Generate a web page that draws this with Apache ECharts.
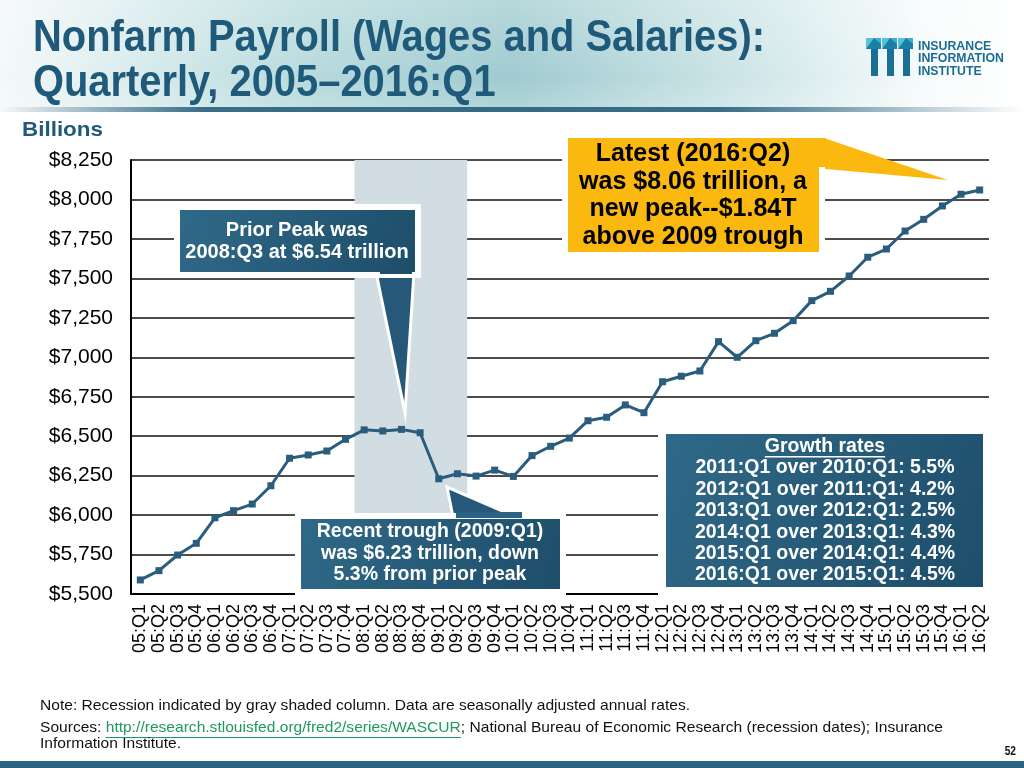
<!DOCTYPE html>
<html><head><meta charset="utf-8">
<script src="https://cdn.jsdelivr.net/npm/echarts@6/dist/echarts.min.js"></script>
<style>html,body{margin:0;padding:0;background:#fff}#c{width:1024px;height:768px}</style>
</head><body><div id="c"></div>
<script>
const categories = ['05:Q1','05:Q2','05:Q3','05:Q4','06:Q1','06:Q2','06:Q3','06:Q4','07:Q1','07:Q2','07:Q3','07:Q4',
  '08:Q1','08:Q2','08:Q3','08:Q4','09:Q1','09:Q2','09:Q3','09:Q4','10:Q1','10:Q2','10:Q3','10:Q4',
  '11:Q1','11:Q2','11:Q3','11:Q4','12:Q1','12:Q2','12:Q3','12:Q4','13:Q1','13:Q2','13:Q3','13:Q4',
  '14:Q1','14:Q2','14:Q3','14:Q4','15:Q1','15:Q2','15:Q3','15:Q4','16:Q1','16:Q2'];
const payroll = [5589,5648,5747,5821, 5983,6028,6070,6186, 6360,6381,6406,6480,
  6540,6533,6543,6522, 6230,6262,6247,6285, 6245,6377,6436,6488,
  6598,6620,6698,6649, 6845,6880,6913,7099, 7000,7105,7152,7232,
  7359,7418,7515,7634, 7686,7800,7874,7959, 8033,8060];
const recessionQuarters = ['08:Q1','08:Q2','08:Q3','08:Q4','09:Q1','09:Q2'];
const yMin = 5500, yMax = 8250, yStep = 250;
const titleLines = ['Nonfarm Payroll (Wages and Salaries):', 'Quarterly, 2005\u20132016:Q1'];
const priorPeakText = ['Prior Peak was', '2008:Q3 at $6.54 trillion'];
const latestText = ['Latest (2016:Q2)', 'was $8.06 trillion, a', 'new peak--$1.84T', 'above 2009 trough'];
const troughText = ['Recent trough (2009:Q1)', 'was $6.23 trillion, down', '5.3% from prior peak'];
const growthTitle = 'Growth rates';
const growthLines = ['2011:Q1 over 2010:Q1: 5.5%','2012:Q1 over 2011:Q1: 4.2%','2013:Q1 over 2012:Q1: 2.5%',
  '2014:Q1 over 2013:Q1: 4.3%','2015:Q1 over 2014:Q1: 4.4%','2016:Q1 over 2015:Q1: 4.5%'];
const noteText = 'Note: Recession indicated by gray shaded column. Data are seasonally adjusted annual rates.';
const srcPre = 'Sources: ';
const srcLink = 'http://research.stlouisfed.org/fred2/series/WASCUR';
const srcPost = '; National Bureau of Economic Research (recession dates); Insurance';
const srcLine2 = 'Information Institute.';
const logoWords = ['INSURANCE', 'INFORMATION', 'INSTITUTE'];

const recessionBars = categories.map(c => recessionQuarters.includes(c) ? yMax : null);

const TEAL = '#1f5a7a';
const SANS = "'Liberation Sans', Arial, sans-serif";

function measure(text, font) {
  const cv = document.createElement('canvas').getContext('2d');
  cv.font = font; return cv.measureText(text).width;
}
function txt(x, y, text, font, fill, align, z, sx) {
  return { type: 'text', x: x, y: y, z: z || 50, scaleX: sx || 1,
    style: { text: text, font: font, fill: fill, align: align || 'left', textAlign: align || 'left',
             verticalAlign: 'middle', textVerticalAlign: 'middle' } };
}
const boxFill = { type: 'linear', x: 0, y: 0, x2: 1, y2: 1,
  colorStops: [{ offset: 0, color: '#306a89' }, { offset: 1, color: '#1d4d69' }] };

const g = [];
// header
g.push({ type: 'rect', z: 1, shape: { x: 0, y: 0, width: 1024, height: 112 },
  style: { fill: { type: 'linear', x: 0, y: 0, x2: 1, y2: 0, colorStops: [
    { offset: 0, color: '#f4f9f9' }, { offset: 0.3, color: '#b7dadc' }, { offset: 0.5, color: '#9fcbd0' },
    { offset: 0.75, color: '#d3e8ea' }, { offset: 0.9, color: '#f6fbfb' }, { offset: 1, color: '#ffffff' }] } } });
g.push({ type: 'rect', z: 2, shape: { x: 0, y: 0, width: 1024, height: 112 },
  style: { fill: { type: 'linear', x: 0, y: 0, x2: 0, y2: 1, colorStops: [
    { offset: 0, color: 'rgba(255,255,255,0.25)' }, { offset: 0.7, color: 'rgba(255,255,255,0)' },
    { offset: 1, color: 'rgba(255,255,255,0.2)' }] } } });
g.push({ type: 'rect', z: 3, shape: { x: 0, y: 107, width: 1024, height: 5 },
  style: { fill: { type: 'linear', x: 0, y: 0, x2: 1, y2: 0, colorStops: [
    { offset: 0, color: 'rgba(40,95,125,0)' }, { offset: 0.2, color: 'rgba(40,95,125,0.9)' },
    { offset: 0.7, color: 'rgba(40,95,125,0.9)' }, { offset: 1, color: 'rgba(40,95,125,0)' }] } } });
const TF = 'bold 44px ' + SANS;
const tsx = 732 / measure(titleLines[0], TF);
g.push(txt(33, 39, titleLines[0], TF, TEAL, 'left', 50, tsx));
g.push(txt(33, 84, titleLines[1], TF, TEAL, 'left', 50, tsx));
// logo: three T shapes
[866, 882, 898].forEach(x0 => {
  g.push({ type: 'rect', z: 5, shape: { x: x0, y: 38, width: 15, height: 11 }, style: { fill: '#1b7fa6' } });
  g.push({ type: 'polygon', z: 6, shape: { points: [[x0, 38], [x0 + 8, 38], [x0, 49]] }, style: { fill: '#56c2da' } });
  g.push({ type: 'polygon', z: 6, shape: { points: [[x0 + 8, 38], [x0 + 15, 38], [x0 + 15, 44]] }, style: { fill: '#3fb0cf' } });
  g.push({ type: 'rect', z: 5, shape: { x: x0 + 5, y: 49, width: 7, height: 27 }, style: { fill: '#1b6f96' } });
});
const LF = 'bold 13px ' + SANS;
const lsx = 86 / measure('INFORMATION', LF);
logoWords.forEach((w, i) => g.push(txt(918, 46 + i * 12.5, w, LF, '#1c6c92', 'left', 50, lsx)));
g.push(txt(22, 130, 'Billions', 'bold 21px ' + SANS, TEAL, 'left', 50, 81 / measure('Billions', 'bold 21px ' + SANS)));

// Prior peak callout
g.push({ type: 'polygon', z: 100, shape: { points: [[376, 272], [414, 272], [405, 413]] },
  style: { fill: '#26587a', stroke: '#fff', lineWidth: 3 } });
g.push({ type: 'rect', z: 101, shape: { x: 177, y: 207, width: 241, height: 68 },
  style: { fill: boxFill, stroke: '#fff', lineWidth: 6 } });
g.push({ type: 'rect', z: 102, shape: { x: 380, y: 268, width: 32, height: 6 }, style: { fill: '#1f4f6b' } });
priorPeakText.forEach((t, i) => g.push(txt(297, 230 + i * 22, t, 'bold 20px ' + SANS, '#fff', 'center', 103)));

// Latest callout
g.push({ type: 'polygon', z: 100, shape: { points: [[815, 135], [948, 180], [815, 168]] },
  style: { fill: '#fbb80f' } });
g.push({ type: 'rect', z: 101, shape: { x: 565, y: 135, width: 257, height: 120 },
  style: { fill: '#fbb80f', stroke: '#fff', lineWidth: 6 } });
g.push({ type: 'rect', z: 102, shape: { x: 818, y: 138, width: 8, height: 29 }, style: { fill: '#fbb80f' } });
latestText.forEach((t, i) => g.push(txt(693, 154 + i * 27.7, t, 'bold 25px ' + SANS, '#000', 'center', 103)));

// Trough callout
g.push({ type: 'polygon', z: 100, shape: { points: [[447, 487], [454, 522], [528, 522]] },
  style: { fill: '#26587a', stroke: '#fff', lineWidth: 3 } });
g.push({ type: 'rect', z: 101, shape: { x: 298, y: 516, width: 265, height: 76 },
  style: { fill: boxFill, stroke: '#fff', lineWidth: 6 } });
g.push({ type: 'rect', z: 102, shape: { x: 456, y: 512, width: 66, height: 6 }, style: { fill: '#2b6283' } });
troughText.forEach((t, i) => g.push(txt(430, 532 + i * 21.5, t, 'bold 19.5px ' + SANS, '#fff', 'center', 103)));

// Growth box
const GF = 'bold 19.5px ' + SANS;
g.push({ type: 'rect', z: 101, shape: { x: 662, y: 430, width: 325, height: 161 },
  style: { fill: boxFill, stroke: '#fff', lineWidth: 8 } });
g.push(txt(825, 447, growthTitle, GF, '#fff', 'center', 103));
const gw = measure(growthTitle, GF);
g.push({ type: 'rect', z: 103, shape: { x: 825 - gw / 2, y: 456, width: gw, height: 1.5 }, style: { fill: '#fff' } });
growthLines.forEach((t, i) => g.push(txt(825, 468 + i * 21.4, t, GF, '#fff', 'center', 103)));

// footer
const FF = '15px ' + SANS;
const fsx = 650 / measure(noteText, FF);
g.push(txt(40, 706, noteText, FF, '#111', 'left', 50, fsx));
const w1 = measure(srcPre, FF) * fsx, w2 = measure(srcLink, FF) * fsx;
g.push(txt(40, 728, srcPre, FF, '#111', 'left', 50, fsx));
g.push(txt(40 + w1, 728, srcLink, FF, '#1e9a5c', 'left', 50, fsx));
g.push({ type: 'rect', z: 50, shape: { x: 40 + w1, y: 737, width: w2, height: 1 }, style: { fill: '#1e9a5c' } });
g.push(txt(40 + w1 + w2, 728, srcPost, FF, '#111', 'left', 50, fsx));
g.push(txt(40, 744, srcLine2, FF, '#111', 'left', 50, fsx));
g.push(txt(1016, 752, '52', 'bold 12px ' + SANS, '#111', 'right', 50, 0.85));
g.push({ type: 'rect', z: 50, shape: { x: 0, y: 761, width: 1024, height: 7 }, style: { fill: '#2b6282' } });

const chart = echarts.init(document.getElementById('c'), null, { renderer: 'canvas' });
chart.setOption({
  backgroundColor: '#fff',
  animation: false,
  grid: { left: 131, right: 35, top: 160, bottom: 174, containLabel: false },
  xAxis: {
    type: 'category', data: categories, boundaryGap: true,
    axisLine: { lineStyle: { color: '#000', width: 2 } },
    axisTick: { show: false },
    axisLabel: { rotate: 90, fontSize: 18, fontFamily: SANS, color: '#000', margin: 10, interval: 0 }
  },
  yAxis: {
    type: 'value', min: yMin, max: yMax, interval: yStep,
    axisLine: { show: true, lineStyle: { color: '#000', width: 2 } },
    axisTick: { show: false },
    splitLine: { lineStyle: { color: '#111', width: 1.5 } },
    axisLabel: { fontSize: 21, fontFamily: SANS, color: '#000', margin: 18,
      formatter: v => '$' + v.toLocaleString('en-US') }
  },
  series: [
    { type: 'bar', data: recessionBars, barWidth: '104%', barGap: '-100%', clip: true, z: 1,
      itemStyle: { color: '#d1dde3' }, silent: true },
    { type: 'line', data: payroll, z: 5, symbol: 'rect', symbolSize: 7, showSymbol: true,
      lineStyle: { color: '#2a5d7d', width: 3 }, itemStyle: { color: '#2a5d7d' } }
  ],
  graphic: { elements: g }
});
</script></body></html>
